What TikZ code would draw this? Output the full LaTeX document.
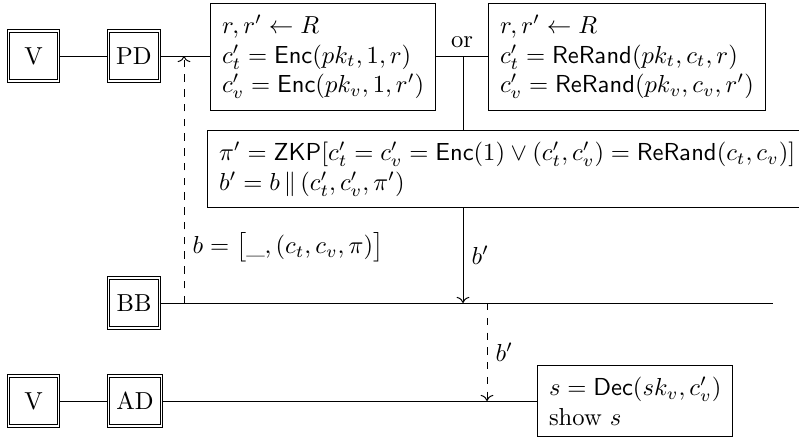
\documentclass[tikz,border=0pt]{standalone}
\usepackage{amsmath}
\usepackage{tikz}
\usetikzlibrary{arrows.meta}

\newcommand{\Enc}{\mathsf{Enc}}
\newcommand{\ReRand}{\mathsf{ReRand}}
\newcommand{\ZKP}{\mathsf{ZKP}}
\newcommand{\Dec}{\mathsf{Dec}}

\begin{document}
\begin{tikzpicture}[x=0.01429cm, y=-0.01429cm,
    party/.style={draw, double, minimum height=20.5pt, minimum width=20.5pt, inner sep=3.2pt},
    calcbox/.style={draw, align=left, inner sep=4.7pt}]
      \useasboundingbox (0,0) rectangle (799,439);
      % parties
      \node[party] (voter) at (33.5,56) {V};
      \node[party] (pd) at (134,56) {PD};
      \node[party] (bb) at (134,303) {BB};
      \node[party] (voter2) at (33.5,401) {V};
      \node[party] (ad) at (135,401) {AD};
      % computations
      \node[calcbox, anchor=north west] (enc) at (210,3)
        {$r, r' \leftarrow R$\\ $c'_t = \Enc(pk_t, 1, r)$\\ $c'_v = \Enc(pk_v, 1, r')$};
      \node[calcbox, anchor=north west] (rerand) at (488,3)
        {$r, r' \leftarrow R$\\ $c'_t = \ReRand(pk_t, c_t, r)$\\ $c'_v = \ReRand(pk_v, c_v, r')$};
      \node[calcbox, anchor=north west, minimum width=8.5cm] (zkp) at (207,130)
        {$\pi' = \ZKP[c'_t = c'_v = \Enc(1) \lor (c'_t, c'_v) = \ReRand(c_t, c_v)]$\\
         $b' = b \,\|\, (c'_t, c'_v, \pi')$};
      \node[calcbox, anchor=north west] (dec) at (537,365)
        {$s = \Dec(sk_v, c'_v)$\\ show $s$};
      \coordinate (split) at (463,56);
      \coordinate (bbend) at (773,303);
      \coordinate (bpost) at (184,303);
      \coordinate (bread) at (487,303);
      % connections
      \draw (voter) -- (pd);
      \draw (pd) -- (pd -| enc.west);
      \draw (enc.east |- split) -- node[above] {or} (rerand.west |- split);
      \draw (split) -- (zkp.north -| split);
      \draw[->] (zkp.south -| split) -- node[right] {$b'$} (split |- bb);
      \draw (bb) -- (bbend);
      \draw[dashed,->] (bpost) -- node[right, pos=0.225] {$b = \bigl[\_, (c_t, c_v, \pi)\bigr]$} (bpost |- pd);
      \draw[dashed,->] (bread) -- node[right] {$b'$} (bread |- ad);
      \draw (voter2) -- (ad);
      \draw (ad) -- (ad -| dec.west);
\end{tikzpicture}
\end{document}
